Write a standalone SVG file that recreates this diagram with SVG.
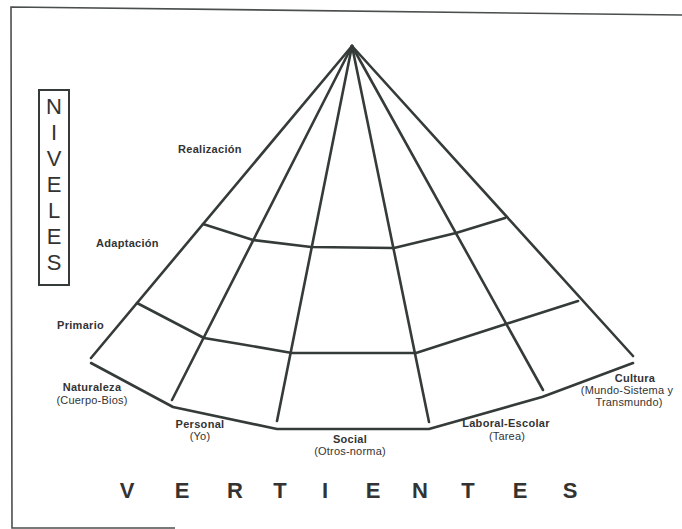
<svg xmlns="http://www.w3.org/2000/svg" width="682" height="529" viewBox="0 0 682 529">
<style>
.ln{fill:none;stroke:#343b39;stroke-width:2.6;stroke-linecap:round;stroke-linejoin:round}
.fr{fill:none;stroke:#4a4f4e;stroke-width:1.6}
.lb{font-family:"Liberation Sans",Arial,sans-serif;font-size:11px;font-weight:bold;fill:#333;letter-spacing:0.3px}
.sb{font-family:"Liberation Sans",Arial,sans-serif;font-size:11px;fill:#333;letter-spacing:0.2px}
.nv{font-family:"Liberation Sans",Arial,sans-serif;font-size:22px;fill:#333;text-anchor:middle}
.vt{font-family:"Liberation Sans",Arial,sans-serif;font-size:22px;font-weight:bold;fill:#333;text-anchor:middle}
</style>
<rect width="682" height="529" fill="#fff"/>
<g id="frame">
<polyline class="fr" points="682,15 11,7 12,528 175,528"/>
</g>
<g id="niveles">
<rect x="39" y="90" width="30" height="195" fill="none" stroke="#343b39" stroke-width="2"/>
<text class="nv" x="54" y="114">N</text>
<text class="nv" x="54" y="140">I</text>
<text class="nv" x="54" y="166">V</text>
<text class="nv" x="54" y="192">E</text>
<text class="nv" x="54" y="218">L</text>
<text class="nv" x="54" y="244">E</text>
<text class="nv" x="54" y="270">S</text>
</g>
<g id="connectors">
<line class="ln" x1="352" y1="46" x2="91" y2="358"/>
<line class="ln" x1="352" y1="46" x2="172" y2="400"/>
<line class="ln" x1="352" y1="46" x2="277" y2="421"/>
<line class="ln" x1="352" y1="46" x2="429" y2="422"/>
<line class="ln" x1="352" y1="46" x2="543" y2="390"/>
<line class="ln" x1="352" y1="46" x2="633" y2="356"/>
<polyline class="ln" points="203,224 253,240 311,247 394,248 456,233 505,218"/>
<polyline class="ln" points="137,303 204,338 240,344 292,353 416,353 506,324 578,301"/>
<polyline class="ln" points="91,363 173,407 277,429 429,429 542,397 633,363"/>
</g>
<g id="niv-labels">
<text class="lb" x="178" y="153">Realización</text>
<text class="lb" x="96" y="247">Adaptación</text>
<text class="lb" x="57" y="329">Primario</text>
</g>
<g id="naturaleza" text-anchor="middle">
<text class="lb" x="92" y="391">Naturaleza</text>
<text class="sb" x="92" y="404">(Cuerpo-Bios)</text>
</g>
<g id="personal" text-anchor="middle">
<text class="lb" x="200" y="428">Personal</text>
<text class="sb" x="200" y="440">(Yo)</text>
</g>
<g id="social" text-anchor="middle">
<text class="lb" x="350" y="443">Social</text>
<text class="sb" x="350" y="455">(Otros-norma)</text>
</g>
<g id="laboral" text-anchor="middle">
<text class="lb" x="506" y="427">Laboral-Escolar</text>
<text class="sb" x="507" y="440">(Tarea)</text>
</g>
<g id="cultura" text-anchor="middle">
<text class="lb" x="635" y="382">Cultura</text>
<text class="sb" x="627" y="394">(Mundo-Sistema y</text>
<text class="sb" x="629" y="406">Transmundo)</text>
</g>
<g id="vertientes">
<text class="vt" x="127" y="498">V</text>
<text class="vt" x="182" y="498">E</text>
<text class="vt" x="235" y="498">R</text>
<text class="vt" x="280" y="498">T</text>
<text class="vt" x="325" y="498">I</text>
<text class="vt" x="373" y="498">E</text>
<text class="vt" x="420" y="498">N</text>
<text class="vt" x="468" y="498">T</text>
<text class="vt" x="520" y="498">E</text>
<text class="vt" x="570" y="498">S</text>
</g>
</svg>
